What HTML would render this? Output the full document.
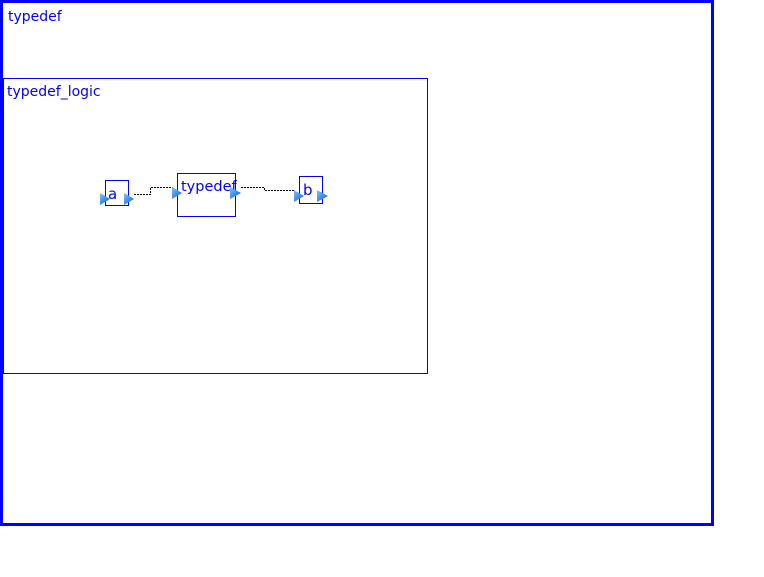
<!DOCTYPE html>
<html><head><meta charset="utf-8"><style>
body{margin:0;width:764px;height:577px;background:#fff;overflow:hidden;position:relative;font-family:"DejaVu Sans","Liberation Sans",sans-serif;}
</style></head><body>
<svg width="764" height="577" style="position:absolute;left:0;top:0">
<defs><linearGradient id="g" x1="0" y1="0" x2="1" y2="1"><stop offset="0" stop-color="#7cc4ff"/><stop offset="1" stop-color="#0a5ad8"/></linearGradient></defs>
<rect x="1.5" y="1.5" width="711" height="523" fill="none" stroke="#0000ff" stroke-width="3"/>
<rect x="3.5" y="78.5" width="424" height="295" fill="none" stroke="#0000ff" stroke-width="1"/>
<text x="8" y="21" font-size="14" fill="#0000ff" font-family="DejaVu Sans, sans-serif">typedef</text>
<text x="7" y="96" font-size="14" fill="#0000ff" font-family="DejaVu Sans, sans-serif">typedef_logic</text>
<rect x="105.5" y="180.5" width="23" height="25" fill="none" stroke="#0000ff"/>
<text x="108" y="199" font-size="15" fill="#0000ff" font-family="DejaVu Sans, sans-serif">a</text>
<rect x="177.5" y="173.5" width="58" height="43" fill="none" stroke="#0000ff"/>
<text x="181" y="191" font-size="14.5" fill="#0000ff" font-family="DejaVu Sans, sans-serif">typedef</text>
<rect x="299.5" y="176.5" width="23" height="27" fill="none" stroke="#0000ff"/>
<text x="303" y="195" font-size="15" fill="#0000ff" font-family="DejaVu Sans, sans-serif">b</text>
<path d="M134 194.5H150.5V187.5H173" fill="none" stroke="#000" stroke-dasharray="2,1" stroke-width="1"/>
<path d="M241 187.5H264.5V190.5H295" fill="none" stroke="#000" stroke-dasharray="2,1" stroke-width="1"/>
<g fill="url(#g)">
<polygon points="100,193 110,199 100,205"/>
<polygon points="124,193 134,199 124,205"/>
<polygon points="172,187 182,193 172,199"/>
<polygon points="230,187 241,193 230,199"/>
<polygon points="294,190 304,196 294,202"/>
<polygon points="317,190 328,196 317,202"/>
</g>
</svg>
</body></html>
